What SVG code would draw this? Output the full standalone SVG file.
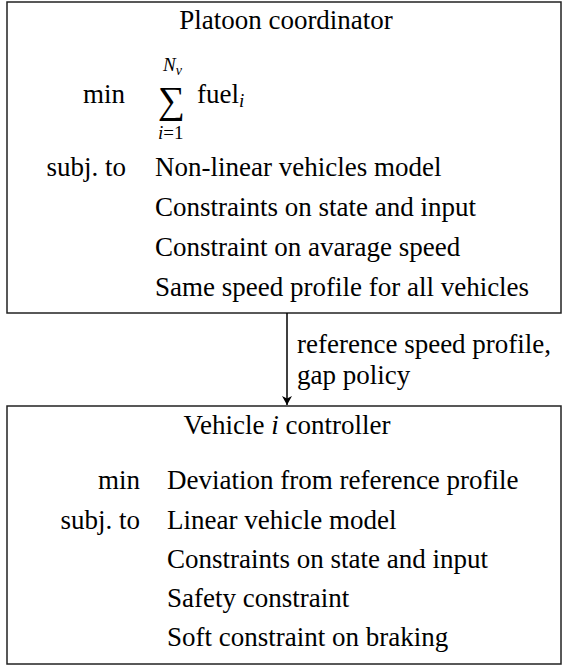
<svg xmlns="http://www.w3.org/2000/svg" width="564" height="666" viewBox="0 0 564 666">
<style>
.box{fill:#fff;stroke:#222;stroke-width:1.5}
.edge{stroke:#000;stroke-width:1.5;fill:none}
</style>
<defs>
<marker id="ah" markerWidth="10" markerHeight="12" refX="9" refY="5" orient="auto" markerUnits="userSpaceOnUse">
<path d="M0,0 L9,5 L0,10 L2.5,5 Z" fill="#000"/>
</marker>
</defs>
<rect width="564" height="666" fill="#fff"/>
<g id="coordinator">
<rect class="box" x="7" y="2" width="554" height="311"/>
<text x="286" y="29" text-anchor="middle" font-family="Liberation Serif" font-size="27">Platoon coordinator</text>
<text x="125" y="103" text-anchor="end" font-family="Liberation Serif" font-size="27">min</text>
<text x="158" y="113" font-family="Liberation Serif" font-size="38">∑</text>
<text x="163" y="71" font-family="Liberation Serif" font-size="19" font-style="italic">N<tspan font-size="14" dy="4">v</tspan></text>
<text x="158" y="139" font-family="Liberation Serif" font-size="19"><tspan font-style="italic">i</tspan>=1</text>
<text x="197" y="103" font-family="Liberation Serif" font-size="27">fuel<tspan font-size="19" font-style="italic" dy="4">i</tspan></text>
<text x="126" y="176" text-anchor="end" font-family="Liberation Serif" font-size="27">subj. to</text>
<text x="155" y="176" font-family="Liberation Serif" font-size="27">Non-linear vehicles model</text>
<text x="155" y="216" font-family="Liberation Serif" font-size="27">Constraints on state and input</text>
<text x="155" y="256" font-family="Liberation Serif" font-size="27">Constraint on avarage speed</text>
<text x="155" y="296" font-family="Liberation Serif" font-size="27">Same speed profile for all vehicles</text>
</g>
<g id="vehicle">
<rect class="box" x="7" y="406" width="554" height="258"/>
<text x="287" y="434" text-anchor="middle" font-family="Liberation Serif" font-size="27">Vehicle <tspan font-style="italic">i</tspan> controller</text>
<text x="140" y="489" text-anchor="end" font-family="Liberation Serif" font-size="27">min</text>
<text x="140" y="529" text-anchor="end" font-family="Liberation Serif" font-size="27">subj. to</text>
<text x="167" y="489" font-family="Liberation Serif" font-size="27">Deviation from reference profile</text>
<text x="167" y="529" font-family="Liberation Serif" font-size="27">Linear vehicle model</text>
<text x="167" y="568" font-family="Liberation Serif" font-size="27">Constraints on state and input</text>
<text x="167" y="607" font-family="Liberation Serif" font-size="27">Safety constraint</text>
<text x="167" y="646" font-family="Liberation Serif" font-size="27">Soft constraint on braking</text>
</g>
<g id="connectors">
<line class="edge" x1="287" y1="313" x2="287" y2="405" marker-end="url(#ah)"/>
<text x="297" y="353" font-family="Liberation Serif" font-size="27">reference speed profile,</text>
<text x="297" y="384" font-family="Liberation Serif" font-size="27">gap policy</text>
</g>
</svg>
